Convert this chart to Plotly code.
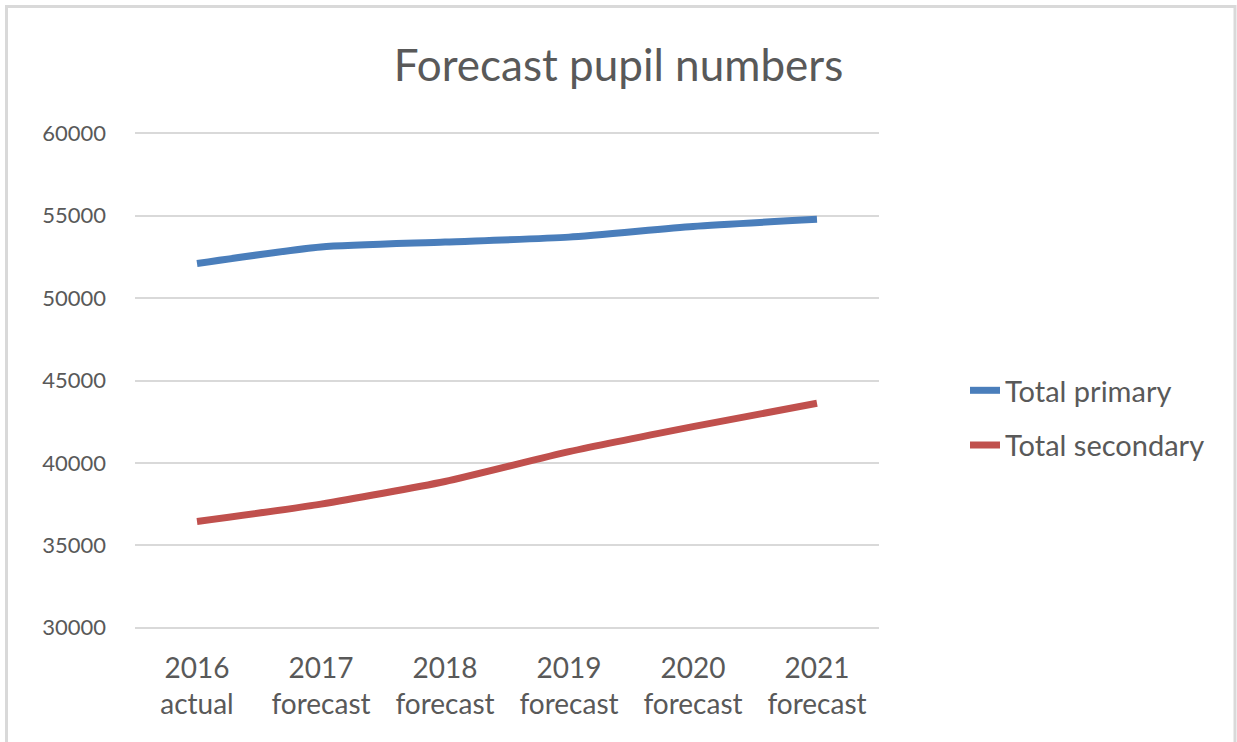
import plotly.graph_objects as go

categories = ["2016<br>actual", "2017<br>forecast", "2018<br>forecast",
              "2019<br>forecast", "2020<br>forecast", "2021<br>forecast"]
total_primary = [52100, 53100, 53400, 53700, 54350, 54780]
total_secondary = [36450, 37500, 38870, 40680, 42200, 43620]
y_ticks = [30000, 35000, 40000, 45000, 50000, 55000, 60000]

FONT = "Lato, 'Open Sans', Arial, sans-serif"
GRAY = "#595959"

fig = go.Figure()
fig.add_trace(go.Scatter(x=categories, y=total_primary, mode="lines",
                         name="Total primary", legendgroup="a",
                         line=dict(color="#4A7EBB", width=7, shape="spline", smoothing=0.6)))
fig.add_trace(go.Scatter(x=categories, y=total_secondary, mode="lines",
                         name="Total secondary", legendgroup="b",
                         line=dict(color="#C0504D", width=7, shape="spline", smoothing=0.6)))

W, H = 1237, 742
Y0, Y1 = 29800, 60200
# pixel positions of 30000 / 60000 in the reference: 628 / 133
px_per_unit = (628 - 133) / 30000
T = 133 - (Y1 - 60000) * px_per_unit
Bpix = 628 + (30000 - Y0) * px_per_unit
L, R = 135, W - 879
B = H - Bpix
pw, ph = W - L - R, Bpix - T

def px_x(x):
    return (x - L) / pw

def px_y(y):
    return (Bpix - y) / ph

fig.update_layout(
    width=W, height=H,
    margin=dict(l=L, r=R, t=T, b=B, autoexpand=False),
    paper_bgcolor="white", plot_bgcolor="white",
    title=dict(text="Forecast pupil numbers", x=0.5, xref="container",
               y=1 - 66 / H, yref="container", xanchor="center", yanchor="middle",
               font=dict(family=FONT, size=44, color=GRAY)),
    font=dict(family=FONT, color=GRAY, size=24),
    showlegend=True,
    legend=dict(x=px_x(965), y=px_y(418), xanchor="left", yanchor="middle",
                font=dict(family=FONT, size=29, color=GRAY),
                traceorder="grouped", tracegroupgap=14, itemwidth=30,
                bgcolor="rgba(0,0,0,0)"),
    xaxis=dict(range=[-0.5, 5.5], showgrid=False, showline=False, zeroline=False,
               ticks="", tickfont=dict(family=FONT, size=28, color=GRAY),
               ticklabelstandoff=18),
    yaxis=dict(range=[Y0, Y1], tickvals=y_ticks, showgrid=True,
               gridcolor="#D9D9D9", gridwidth=2, zeroline=False, showline=False,
               ticks="", tickformat="d",
               tickfont=dict(family=FONT, size=22, color=GRAY),
               ticklabelstandoff=28),
    shapes=[dict(type="rect", xref="paper", yref="paper",
                 x0=px_x(6.5), x1=px_x(1235), y0=px_y(6), y1=px_y(748),
                 line=dict(color="#D9D9D9", width=3), fillcolor="rgba(0,0,0,0)",
                 layer="below")],
)

fig.write_html("out.html", config={"displayModeBar": False},
               post_script="document.body.style.margin='0';document.body.style.overflow='hidden';")
